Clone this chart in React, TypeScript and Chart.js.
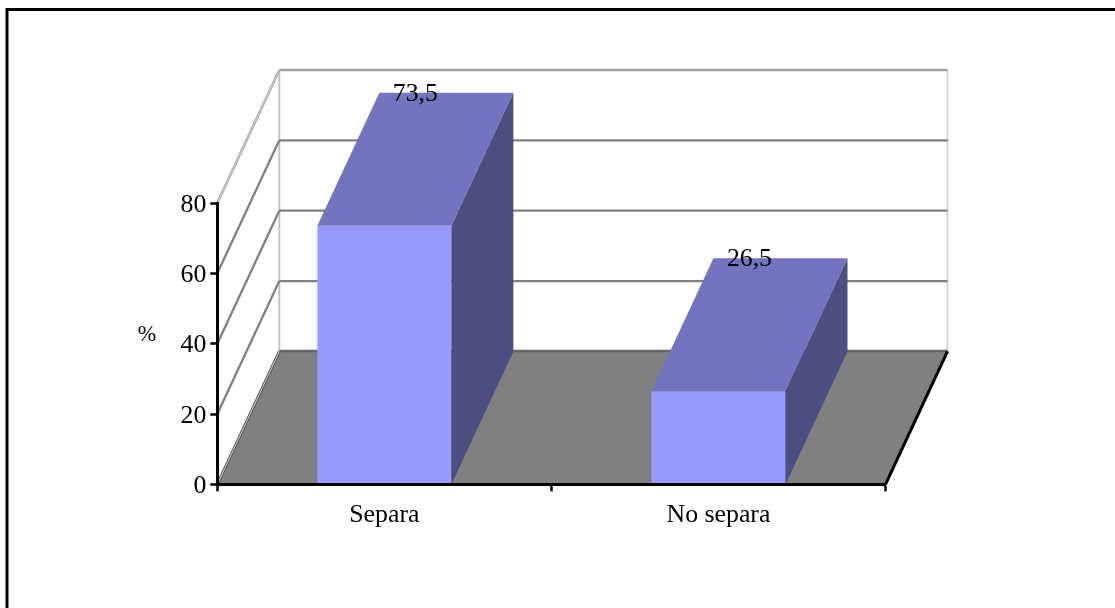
import React, { useEffect, useRef } from "react";
import { Chart, registerables } from "chart.js";

Chart.register(...registerables);

const categories = ["Separa", "No separa"];
const shares = [73.5, 26.5];
const valueTicks = [0, 20, 40, 60, 80];
const unitLabel = "%";

const FONT = "'Liberation Serif', serif";
const FONT_SIZE = 25.8;
const DEPTH_X = 62;
const DEPTH_Y = -133;

const poly = (ctx: CanvasRenderingContext2D, pts: number[][], fill: string) => {
  ctx.beginPath();
  pts.forEach(([x, y], i) => (i ? ctx.lineTo(x, y) : ctx.moveTo(x, y)));
  ctx.closePath();
  ctx.fillStyle = fill;
  ctx.fill();
};

const line = (
  ctx: CanvasRenderingContext2D,
  x1: number,
  y1: number,
  x2: number,
  y2: number,
  color: string,
  width: number
) => {
  ctx.beginPath();
  ctx.moveTo(x1, y1);
  ctx.lineTo(x2, y2);
  ctx.strokeStyle = color;
  ctx.lineWidth = width;
  ctx.stroke();
};

// Page frame, back walls and floor of the box, painted behind the axes.
const boxPlugin = {
  id: "box",
  beforeDraw(chart: any) {
    const { ctx, scales } = chart;
    const { x, y } = scales;
    const left = x.left;
    const right = x.right;
    const base = y.getPixelForValue(0);

    // Value labels sit slightly below their tick marks.
    y._labelItems = y._computeLabelItems(chart.chartArea).map((item: any) => ({
      ...item,
      textOffset: item.textOffset + 2,
    }));

    ctx.save();
    ctx.fillStyle = "#fff";
    ctx.fillRect(0, 0, chart.width, chart.height);

    line(ctx, 6, 9.5, chart.width, 9.5, "#000", 3);
    line(ctx, 7, 8, 7, chart.height, "#000", 3);

    const backTop = y.getPixelForValue(valueTicks[valueTicks.length - 1]) + DEPTH_Y;
    const backBase = base + DEPTH_Y;

    line(ctx, left + DEPTH_X, backTop, left + DEPTH_X, backBase, "#c4c4c4", 2);
    line(ctx, right + DEPTH_X, backTop, right + DEPTH_X, backBase, "#d8d8d8", 2);

    valueTicks.slice(1).forEach((v) => {
      const py = y.getPixelForValue(v);
      const isTop = v === valueTicks[valueTicks.length - 1];
      const color = isTop ? "#a0a0a0" : "#808080";
      line(ctx, left, py, left + DEPTH_X, py + DEPTH_Y, color, isTop ? 2.6 : 2.3);
      line(ctx, left + DEPTH_X, py + DEPTH_Y, right + DEPTH_X, py + DEPTH_Y, color, isTop ? 2.6 : 2.3);
      if (isTop) line(ctx, left, py, left + DEPTH_X, py + DEPTH_Y, "#eeeeee", 0.7);
    });

    poly(
      ctx,
      [
        [left, base],
        [right, base],
        [right + DEPTH_X, backBase],
        [left + DEPTH_X, backBase],
      ],
      "#808080"
    );
    line(ctx, left + DEPTH_X, backBase - 0.5, right + DEPTH_X, backBase - 0.5, "#666666", 2.5);
    line(ctx, left, base, left + DEPTH_X, backBase, "#555555", 2.8);
    line(ctx, left, base, left + DEPTH_X, backBase, "#f0f0f0", 0.8);
    line(ctx, right, base, right + DEPTH_X, backBase, "#000", 3);
    ctx.restore();
  },
  // Top and side faces of each column, with the value written on the rear edge.
  afterDatasetsDraw(chart: any) {
    const { ctx, scales } = chart;
    const base = scales.y.getPixelForValue(0);
    const bars = chart.getDatasetMeta(0).data;
    ctx.save();
    bars.forEach((bar: any, i: number) => {
      const l = bar.x - bar.width / 2;
      const r = bar.x + bar.width / 2;
      const t = bar.y;
      poly(
        ctx,
        [
          [l, t],
          [l + DEPTH_X, t + DEPTH_Y],
          [r + DEPTH_X, t + DEPTH_Y],
          [r, t],
        ],
        "#7373BF"
      );
      poly(
        ctx,
        [
          [r, t],
          [r + DEPTH_X, t + DEPTH_Y],
          [r + DEPTH_X, base + DEPTH_Y],
          [r, base],
        ],
        "#4D4D80"
      );
      ctx.fillStyle = "#000";
      ctx.font = `${FONT_SIZE}px ${FONT}`;
      ctx.textAlign = "center";
      ctx.textBaseline = "middle";
      ctx.fillText(String(shares[i]).replace(".", ","), bar.x + DEPTH_X / 2, t + DEPTH_Y + 1);
    });
    ctx.fillStyle = "#000";
    ctx.font = `${FONT_SIZE * 0.86}px ${FONT}`;
    ctx.textAlign = "center";
    ctx.textBaseline = "middle";
    ctx.fillText(unitLabel, 147, scales.y.getPixelForValue(42) - 1);
    ctx.restore();
  },
};

export default function App() {
  const ref = useRef<HTMLCanvasElement>(null);

  useEffect(() => {
    const chart = new Chart(ref.current as HTMLCanvasElement, {
      type: "bar",
      data: {
        labels: categories,
        datasets: [
          {
            data: shares,
            backgroundColor: "#9999FF",
            borderWidth: 0,
            barPercentage: 0.4012,
            categoryPercentage: 1,
          },
        ],
      },
      options: {
        responsive: false,
        animation: false,
        layout: { padding: { left: 167.3, top: 203, right: 229.5, bottom: 63.6 } },
        plugins: { legend: { display: false }, tooltip: { enabled: false } },
        scales: {
          x: {
            offset: true,
            afterFit: (s: any) => {
              s.height = 60;
            },
            grid: {
              offset: true,
              drawOnChartArea: false,
              tickLength: 7,
              tickWidth: 2.5,
              tickColor: "#000",
            },
            border: { color: "#000", width: 3, z: 1 },
            ticks: {
              color: "#000",
              padding: 8.5,
              maxRotation: 0,
              autoSkip: false,
              font: { family: FONT, size: FONT_SIZE },
            },
          },
          y: {
            min: 0,
            max: 80,
            afterFit: (s: any) => {
              s.width = 50;
            },
            afterBuildTicks: (s: any) => {
              s.ticks = valueTicks.map((value) => ({ value }));
            },
            grid: {
              drawOnChartArea: false,
              tickLength: 7,
              tickWidth: 2.5,
              tickColor: "#000",
            },
            border: { color: "#000", width: 3, z: 1 },
            ticks: {
              color: "#000",
              padding: 4,
              font: { family: FONT, size: FONT_SIZE },
            },
          },
        },
      },
      plugins: [boxPlugin],
    } as any);
    return () => chart.destroy();
  }, []);

  return (
    <canvas
      ref={ref}
      width={1115}
      height={608}
      style={{ position: "absolute", left: 0, top: 0, display: "block" }}
    />
  );
}
